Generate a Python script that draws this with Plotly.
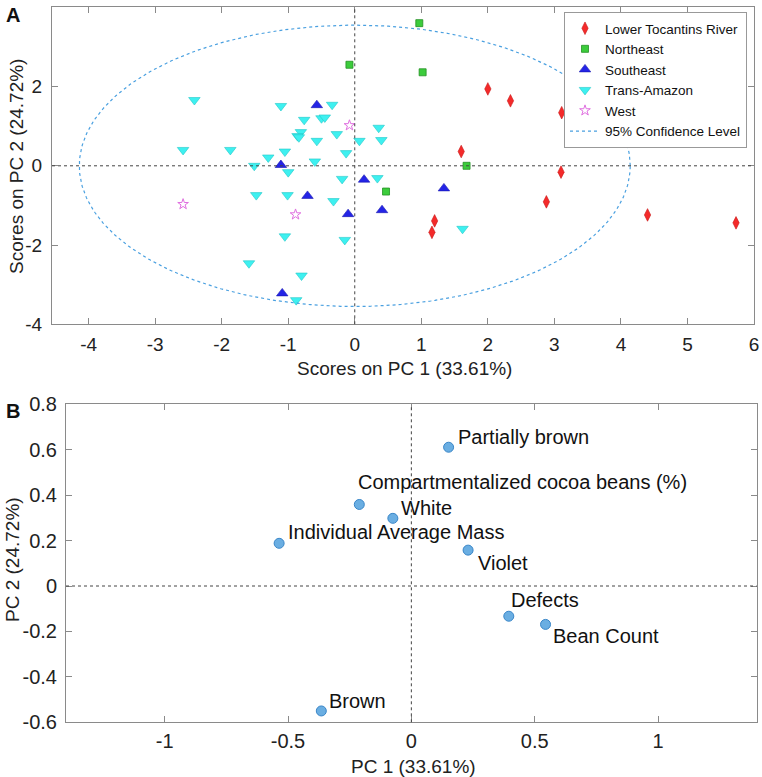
import numpy as np
import plotly.graph_objects as go

# ---------------- Panel A data (scores) ----------------
ltr_x = [2.00, 2.34, 3.11, 1.60, 3.10, 2.88, 1.20, 1.16, 4.40, 5.73]
ltr_y = [1.94, 1.64, 1.34, 0.36, -0.16, -0.91, -1.39, -1.68, -1.24, -1.44]

ne_x = [-0.08, 0.97, 1.02, 1.68, 0.47]
ne_y = [2.55, 3.60, 2.36, 0.00, -0.65]

se_x = [-0.57, -1.11, 0.14, -0.71, -0.10, 0.41, -1.09, 1.34]
se_y = [1.53, 0.02, -0.35, -0.76, -1.22, -1.12, -3.22, -0.57]

ta_x = [-2.41, -1.11, -0.34, -0.76, -0.50, -0.45, 0.36, -0.81, -0.86, -0.84, -0.57,
        -0.27, 0.07, 0.40, -2.58, -1.87, -1.05, -0.13, -1.30, -0.60, -1.51, -1.00,
        -0.19, 0.34, -1.48, -1.01, -0.32, -1.05, -0.15, -1.59, -0.80, -0.88, 1.62]
ta_y = [1.66, 1.51, 1.54, 1.16, 1.20, 1.22, 0.96, 0.85, 0.75, 0.72, 0.63,
        0.80, 0.63, 0.65, 0.40, 0.40, 0.36, 0.32, 0.21, 0.11, 0.00, -0.16,
        -0.33, -0.31, -0.74, -0.74, -0.89, -1.78, -1.87, -2.46, -2.77, -3.39, -1.59]

west_x = [-0.08, -2.58, -0.89]
west_y = [1.02, -0.97, -1.23]

ellipse_a = 4.14   # semi-axis along PC1
ellipse_b = 3.55   # semi-axis along PC2

a_xticks = [-4, -3, -2, -1, 0, 1, 2, 3, 4, 5, 6]
a_xticktext = ["-4", "-3", "-2", "-1", "0", "1", "2", "3", "4", "5", "6"]
a_yticks = [-4, -2, 0, 2, 4]
a_yticktext = ["-4", "-2", "0", "2", "4"]

# ---------------- Panel B data (loadings) ----------------
load_names = ["Partially brown", "Compartmentalized cocoa beans (%)", "White",
              "Individual Average Mass", "Violet", "Defects", "Bean Count", "Brown"]
load_x = [0.151, -0.211, -0.075, -0.536, 0.230, 0.395, 0.544, -0.365]
load_y = [0.611, 0.359, 0.298, 0.188, 0.158, -0.133, -0.169, -0.550]
# label offsets in pixels (dx right, dy up)
label_dx = [7, -3, 6, 7, 8, 0, 5, 6]
label_dy = [10, 22, 10, 11, -13, 16, -12, 10]

b_xticks = [-1, -0.5, 0, 0.5, 1]
b_xticktext = ["-1", "-0.5", "0", "0.5", "1"]
b_yticks = [-0.6, -0.4, -0.2, 0, 0.2, 0.4, 0.6, 0.8]
b_yticktext = ["-0.6", "-0.4", "-0.2", "0", "0.2", "0.4", "0.6", "0.8"]

FONT = "Liberation Sans, Arial, sans-serif"
W, H = 762, 777

fig = go.Figure()

fig.add_trace(go.Scatter(x=ltr_x, y=ltr_y, mode="markers", name="Lower Tocantins River",
                         marker=dict(symbol="diamond-tall", size=9, color="#f42a2a",
                                     line=dict(color="#c81818", width=0.6)),
                         xaxis="x", yaxis="y"))
fig.add_trace(go.Scatter(x=ne_x, y=ne_y, mode="markers", name="Northeast",
                         marker=dict(symbol="square", size=7, color="#3ccc3c",
                                     line=dict(color="#239023", width=0.8)),
                         xaxis="x", yaxis="y"))
fig.add_trace(go.Scatter(x=se_x, y=se_y, mode="markers", name="Southeast",
                         marker=dict(symbol="triangle-up", size=10, color="#2424e6",
                                     line=dict(color="#1818b0", width=0.6)),
                         xaxis="x", yaxis="y"))
fig.add_trace(go.Scatter(x=ta_x, y=ta_y, mode="markers", name="Trans-Amazon",
                         marker=dict(symbol="triangle-down", size=10, color="#3ef0f0",
                                     line=dict(color="#20c8c8", width=0.6)),
                         xaxis="x", yaxis="y"))
fig.add_trace(go.Scatter(x=west_x, y=west_y, mode="markers", name="West",
                         marker=dict(symbol="star-open", size=8, color="#e070e0",
                                     line=dict(color="#e070e0", width=1)),
                         xaxis="x", yaxis="y"))
t = np.linspace(0, 2 * np.pi, 400)
fig.add_trace(go.Scatter(x=ellipse_a * np.cos(t), y=ellipse_b * np.sin(t), mode="lines",
                         name="95% Confidence Level",
                         line=dict(color="#4aa0e0", width=1.2, dash="dot"),
                         xaxis="x", yaxis="y"))

# Panel B
fig.add_trace(go.Scatter(x=load_x, y=load_y, mode="markers", showlegend=False,
                         marker=dict(symbol="circle", size=10, color="#6aaee2",
                                     line=dict(color="#3a86c8", width=1)),
                         xaxis="x2", yaxis="y2"))

axis_common = dict(showline=True, linecolor="#8a8a8a", linewidth=1, mirror="ticks",
                   ticks="inside", ticklen=6, tickcolor="#8a8a8a", tickwidth=1,
                   showgrid=False, automargin=False, zeroline=False)
top_tickfont = dict(family=FONT, size=19, color="#222")
bot_tickfont = dict(family=FONT, size=20, color="#222")

fig.update_layout(
    template="none",
    width=W, height=H, margin=dict(l=0, r=0, t=0, b=0, pad=0),
    paper_bgcolor="white", plot_bgcolor="white",
    font=dict(family=FONT, color="#222"),
    xaxis=dict(domain=[52 / W, 754 / W], range=[-4.55, 6], tickmode="array",
               tickvals=a_xticks, ticktext=a_xticktext, anchor="y",
               ticklabelstandoff=3, tickfont=top_tickfont, **axis_common),
    yaxis=dict(domain=[1 - 324.3 / H, 1 - 7.3 / H], range=[-4, 4], tickmode="array",
               tickvals=a_yticks, ticktext=a_yticktext, anchor="x",
               ticklabelstandoff=5, tickfont=top_tickfont, **axis_common),
    xaxis2=dict(domain=[66 / W, 756.7 / W], range=[-1.4, 1.4], tickmode="array",
                tickvals=b_xticks, ticktext=b_xticktext, anchor="y2",
                ticklabelstandoff=1, tickfont=bot_tickfont, **axis_common),
    yaxis2=dict(domain=[1 - 722.3 / H, 1 - 404.3 / H], range=[-0.6, 0.8], tickmode="array",
                tickvals=b_yticks, ticktext=b_yticktext, anchor="x2",
                ticklabelstandoff=4, tickfont=bot_tickfont, **axis_common),
    legend=dict(x=564 / W, y=1 - 12 / H, xanchor="left", yanchor="top",
                bgcolor="white", bordercolor="#999", borderwidth=1,
                font=dict(family=FONT, size=13.5, color="#111"),
                itemsizing="trace", itemwidth=30, tracegroupgap=0),
)

# dotted zero reference lines
shapes = []
for xr, yr in (("x", "y"), ("x2", "y2")):
    shapes.append(dict(type="line", xref=xr, yref=yr + " domain", x0=0, x1=0, y0=0, y1=1,
                       line=dict(color="#444", width=1, dash="dot")))
    shapes.append(dict(type="line", xref=xr + " domain", yref=yr, x0=0, x1=1, y0=0, y1=0,
                       line=dict(color="#444", width=1, dash="dot")))
fig.update_layout(shapes=shapes)

ann = []
# loading labels
for nm, lx, ly, dx, dy in zip(load_names, load_x, load_y, label_dx, label_dy):
    ann.append(dict(x=lx, y=ly, xref="x2", yref="y2", text=nm, showarrow=False,
                    xanchor="left", yanchor="middle", xshift=dx, yshift=dy,
                    font=dict(family=FONT, size=20, color="#111")))


def paper_text(px, py, text, size, angle=0, color="#222"):
    return dict(x=px / W, y=1 - py / H, xref="paper", yref="paper", text=text,
                showarrow=False, xanchor="center", yanchor="middle", textangle=angle,
                font=dict(family=FONT, size=size, color=color))


ann.append(paper_text(404, 368, "Scores on PC 1 (33.61%)", 19))
ann.append(paper_text(17, 167, "Scores on PC 2 (24.72%)", 19, angle=-90))
ann.append(paper_text(413, 766, "PC 1 (33.61%)", 19))
ann.append(paper_text(12, 560, "PC 2 (24.72%)", 19, angle=-90))
ann.append(paper_text(13, 15, "<b>A</b>", 20, color="#111"))
ann.append(paper_text(13, 411, "<b>B</b>", 20, color="#111"))
fig.update_layout(annotations=ann)

fig.write_html("out.html", config={"displayModeBar": False},
               post_script="document.body.style.margin='0';")
